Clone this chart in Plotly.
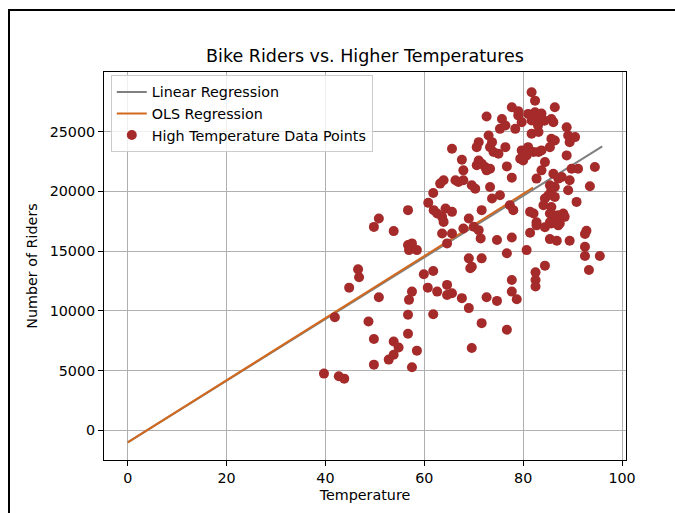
import plotly.graph_objects as go

# ---- data ----
temps = [39.7, 42.7, 43.8, 41.9, 44.8, 46.6, 46.8, 48.7, 49.8, 49.8,
         49.8, 50.8, 50.8, 52.8, 53.8, 53.8, 54.8, 53.8, 56.7, 56.7,
         57.5, 56.9, 58.5, 56.7, 56.7, 56.9, 57.5, 57.5, 58.5, 59.9,
         60.7, 60.8, 61.8, 61.8, 61.8, 61.9, 62.6, 63.6, 63.9, 64.3,
         65.6, 62.6, 63.6, 64.6, 65.6, 64.6, 64.6, 65.6, 63.9, 63.2,
         65.6, 66.3, 66.9, 67.9, 67.6, 67.9, 67.6, 67.9, 69.0, 70.0,
         69.0, 69.0, 69.3, 69.6, 69.6, 69.6, 70.3, 70.6, 71.0, 71.6,
         71.0, 70.6, 71.0, 71.4, 71.6, 71.6, 71.6, 72.3, 73.3, 72.6,
         72.6, 73.0, 73.7, 73.3, 74.0, 75.0, 72.6, 73.3, 73.7, 74.7,
         74.7, 75.3, 75.3, 75.7, 76.4, 76.4, 76.7, 76.7, 76.7, 77.7,
         77.7, 77.3, 78.0, 77.7, 77.7, 77.7, 78.7, 78.4, 79.0, 79.7,
         81.0, 81.7, 82.4, 79.7, 81.0, 80.7, 82.1, 79.4, 80.0, 81.7,
         82.4, 81.4, 82.1, 80.7, 81.4, 82.5, 82.5, 82.5, 86.4, 82.8,
         83.7, 84.3, 83.0, 85.7, 86.1, 88.8, 89.1, 90.5, 81.7, 83.1,
         85.7, 86.4, 89.4, 85.4, 83.1, 83.7, 88.8, 84.4, 89.8, 91.1,
         94.5, 83.7, 82.7, 86.1, 87.1, 87.8, 89.4, 85.4, 86.4, 85.7,
         85.1, 93.5, 89.1, 84.4, 86.4, 90.8, 84.1, 85.7, 85.4, 86.1,
         87.1, 88.1, 88.4, 82.7, 85.7, 87.4, 92.8, 82.7, 84.4, 85.4,
         86.8, 87.1, 85.4, 86.8, 89.4, 92.5, 92.5, 92.5, 95.5, 93.3,
         84.4, 79.0]
riders = [4750, 4530, 4330, 9470, 11940, 13470, 12810, 9110, 7640, 5500,
          17020, 17720, 11140, 5920, 6330, 7440, 6940, 16670, 18420, 15500,
          15640, 15080, 15080, 9670, 8080, 10920, 11610, 5280, 6670, 13060,
          11940, 19030, 19860, 13330, 9720, 18420, 18140, 17860, 17440, 18560,
          18280, 11610, 16470, 15640, 16470, 12170, 11330, 11470, 20920, 20640,
          23560, 20920, 20780, 20920, 22640, 21750, 11060, 16890, 17720, 17030,
          10230, 14390, 13560, 13690, 6890, 20500, 20220, 22170, 22580, 22310,
          24110, 23690, 16750, 16060, 14390, 18420, 8970, 22030, 21890, 21750,
          26250, 24670, 24110, 23690, 23280, 23140, 11140, 20360, 19390, 15920,
          10830, 19670, 25220, 26050, 25500, 23690, 22080, 14810, 8420, 27030,
          21140, 18830, 18420, 16140, 12580, 11610, 10970, 25220, 26330, 25780,
          26470, 25920, 26610, 23420, 23690, 23000, 23280, 22720, 22580, 28280,
          27580, 18280, 18140, 15080, 16530, 13220, 12580, 12030, 27030, 26200,
          26500, 25900, 25500, 26050, 25780, 25360, 24670, 24530, 24810, 24950,
          24390, 24250, 24110, 23690, 23280, 23420, 23000, 22440, 21890, 21890,
          22030, 21750, 21060, 21470, 21060, 21190, 20920, 20500, 20360, 20080,
          19670, 20420, 20080, 19390, 19530, 19110, 18830, 18690, 18140, 18000,
          18000, 18140, 17860, 17400, 17300, 17300, 16690, 17150, 17000, 17400,
          17400, 17150, 16000, 15860, 15860, 16420, 15360, 14580, 14580, 13420,
          13780, 26700]

lr_x = [0, 96]
lr_y = [-1000, 23750]
ols_x = [0, 82]
ols_y = [-1000, 20300]

title_text = "Bike Riders vs. Higher Temperatures"
x_label = "Temperature"
y_label = "Number of Riders"
x_ticks = [0, 20, 40, 60, 80, 100]
y_ticks = [0, 5000, 10000, 15000, 20000, 25000]

FONT = "DejaVu Sans, Verdana, sans-serif"
FS = 14.3

fig = go.Figure()
fig.add_trace(go.Scatter(x=lr_x, y=lr_y, mode="lines", name="Linear Regression",
                         line=dict(color="#808080", width=2), legendgroup="a"))
fig.add_trace(go.Scatter(x=ols_x, y=ols_y, mode="lines", name="OLS Regression",
                         line=dict(color="#d2691e", width=2), legendgroup="b"))
fig.add_trace(go.Scatter(x=temps, y=riders, mode="markers",
                         name="High Temperature Data Points",
                         marker=dict(color="#a52a2a", size=10, line=dict(width=0)),
                         legendgroup="c"))

axis_common = dict(showline=True, linecolor="black", linewidth=1, mirror=True,
                   ticks="outside", ticklen=5, tickcolor="black", tickwidth=1,
                   showgrid=True, gridcolor="#b0b0b0", gridwidth=1, zeroline=False,
                   tickfont=dict(family=FONT, size=FS, color="black"))

fig.update_xaxes(range=[-4.8, 100.8], tickvals=x_ticks, tickformat="d",
                 title=dict(text=x_label, font=dict(family=FONT, size=FS, color="black"), standoff=4),
                 **axis_common)
fig.update_yaxes(range=[-2475, 29975], tickvals=y_ticks, tickformat="d",
                 title=dict(text=y_label, font=dict(family=FONT, size=FS, color="black"), standoff=8),
                 **axis_common)

# outer frame lines of the picture (decoration)
W, H = 675, 513
L, R, T, B = 104, 626, 72, 460
def px(xp):
    return (xp - L) / (R - L)
def py(yp):
    return (B - yp) / (B - T)

fig.update_layout(
    width=W, height=H,
    margin=dict(l=L, r=W - R, t=T, b=H - B),
    paper_bgcolor="white", plot_bgcolor="white",
    font=dict(family=FONT, size=FS, color="black"),
    title=dict(text=title_text, x=0.5, xref="paper", y=1 - 56 / H, yanchor="middle",
               xanchor="center", font=dict(family=FONT, size=17.5, color="black")),
    legend=dict(x=0.013, y=0.992, xanchor="left", yanchor="top",
                bgcolor="rgba(255,255,255,0.8)", bordercolor="#cccccc", borderwidth=1,
                font=dict(family=FONT, size=FS, color="black"), tracegroupgap=0),
    shapes=[
        dict(type="line", xref="paper", yref="paper", x0=px(8), x1=px(W + 5),
             y0=py(10), y1=py(10), line=dict(color="black", width=2)),
        dict(type="line", xref="paper", yref="paper", x0=px(9), x1=px(9),
             y0=py(9), y1=py(H + 5), line=dict(color="black", width=2)),
    ],
    showlegend=True,
)

fig.write_html("out.html", config={"displayModeBar": False},
               post_script="document.body.style.margin='0px';document.body.style.overflow='hidden';")
